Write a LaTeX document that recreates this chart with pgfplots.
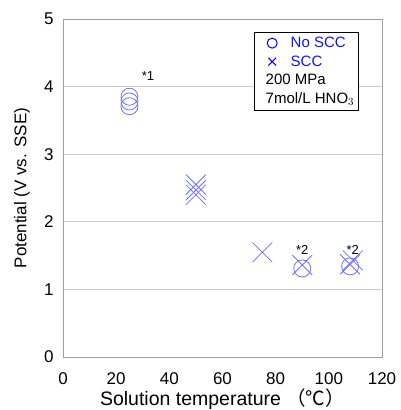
\documentclass[border=0pt]{standalone}
\usepackage{fontspec}
\setmainfont{Liberation Sans}
\newfontfamily\cjk{Noto Sans CJK JP}
\usepackage{pgfplots}
\pgfplotsset{compat=1.18}
\definecolor{markblue}{RGB}{110,110,255}
\definecolor{txtblue}{RGB}{20,20,235}
\begin{document}
\begin{tikzpicture}
\begin{axis}[
    width=319pt, height=338pt, scale only axis,
    xmin=0, xmax=120, ymin=0, ymax=5,
    xtick={0,20,...,120}, ytick={0,1,...,5},
    major tick length=0pt,
    ymajorgrids=true,
    grid style={gray!40, line width=0.8pt},
    axis line style={gray!75, line width=0.7pt},
    /pgf/number format/assume math mode=true,
    tick label style={font=\fontsize{17}{20}\selectfont},
    xticklabel style={yshift=-12pt},
    yticklabel style={xshift=-6pt},
    xlabel={\smash{Solution temperature {\cjk（℃）}}},
    ylabel={Potential (V vs. SSE)},
    xlabel style={font=\fontsize{19.5}{22}\selectfont, at={(rel axis cs:0.5,0)}, anchor=base, yshift=-48.5pt},
    ylabel style={font=\fontsize{17}{20}\selectfont, at={(rel axis cs:0,0.5)}, anchor=center, yshift=41pt},
    legend style={at={(0.6,0.962)}, anchor=north west, draw=black, line width=0.6pt,
        font=\fontsize{15}{18}\selectfont, row sep=2.5pt, inner xsep=2pt, inner ysep=3pt,
        legend cell align=left},
    legend image code/.code={%
        \path (0pt,0pt) (31pt,0pt);
        \draw[#1, mark repeat=1] plot coordinates {(15pt,0pt)};},
]
\addplot[only marks, mark=o, mark size=8.5pt, markblue, line width=0.8pt,
    forget plot] coordinates {
    (25,3.85) (25,3.78) (25,3.71)
    (90,1.31) (108,1.34)
};
\addplot[only marks, mark=x, mark size=14pt, markblue, line width=0.8pt,
    forget plot] coordinates {
    (50,2.55) (50,2.47) (50,2.40)
    (75,1.55) (90,1.36) (108,1.37) (109,1.43)
};
\addlegendimage{only marks, mark=o, mark size=5pt, blue, line width=1pt}
\addlegendentry{\textcolor{txtblue}{No SCC}}
\addlegendimage{only marks, mark=x, mark size=5.5pt, blue, line width=1pt}
\addlegendentry{\textcolor{txtblue}{SCC}}
\addlegendimage{empty legend}
\addlegendentry{\hspace{-25pt}200 MPa}
\addlegendimage{empty legend}
\addlegendentry{\hspace{-25pt}7mol/L HNO$_3$}
\node[font=\fontsize{13}{15}\selectfont] at (axis cs:32,4.15) {*1};
\node[font=\fontsize{13}{15}\selectfont] at (axis cs:90,1.59) {*2};
\node[font=\fontsize{13}{15}\selectfont] at (axis cs:109,1.59) {*2};
\end{axis}
\path (current axis.south west) ++(-63pt,-53pt);
\path (current axis.north east) ++(19pt,19pt);
\end{tikzpicture}
\end{document}
